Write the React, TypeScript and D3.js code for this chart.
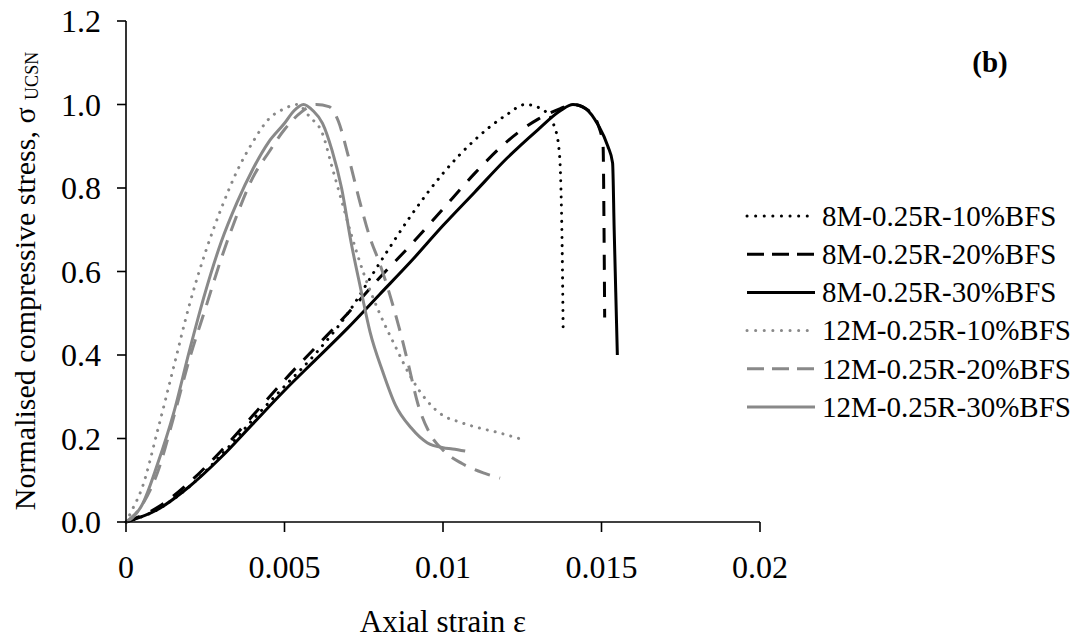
import React from "react";
import * as d3 from "d3";

type Pt = [number, number];

const xTicks = [0, 0.005, 0.01, 0.015, 0.02];
const xTickLabels = ["0", "0.005", "0.01", "0.015", "0.02"];
const yTicks = [0, 0.2, 0.4, 0.6, 0.8, 1.0, 1.2];
const yTickLabels = ["0.0", "0.2", "0.4", "0.6", "0.8", "1.0", "1.2"];

const seriesNames = [
  "8M-0.25R-10%BFS",
  "8M-0.25R-20%BFS",
  "8M-0.25R-30%BFS",
  "12M-0.25R-10%BFS",
  "12M-0.25R-20%BFS",
  "12M-0.25R-30%BFS",
];

const m8r10: Pt[] = [
  [0, 0], [0.001, 0.03], [0.002, 0.085], [0.003, 0.16], [0.004, 0.245], [0.005, 0.325],
  [0.006, 0.405], [0.007, 0.5], [0.008, 0.62], [0.009, 0.735], [0.01, 0.835],
  [0.011, 0.915], [0.012, 0.975], [0.0126, 1.0], [0.0132, 0.985], [0.0135, 0.95],
  [0.01365, 0.9], [0.01372, 0.8], [0.01376, 0.65], [0.01379, 0.46],
];
const m8r20: Pt[] = [
  [0, 0], [0.001, 0.035], [0.002, 0.095], [0.003, 0.17], [0.004, 0.255], [0.005, 0.34],
  [0.006, 0.42], [0.007, 0.5], [0.008, 0.585], [0.009, 0.665], [0.01, 0.75],
  [0.011, 0.835], [0.012, 0.91], [0.013, 0.965], [0.0137, 0.99], [0.0141, 1.0],
  [0.0146, 0.985], [0.0149, 0.95], [0.01505, 0.9], [0.01508, 0.7], [0.0151, 0.49],
];
const m8r30: Pt[] = [
  [0, 0], [0.001, 0.03], [0.002, 0.085], [0.003, 0.155], [0.004, 0.235], [0.005, 0.315],
  [0.006, 0.39], [0.007, 0.465], [0.008, 0.545], [0.009, 0.625], [0.01, 0.71],
  [0.011, 0.79], [0.012, 0.87], [0.013, 0.94], [0.0137, 0.985], [0.0141, 1.0],
  [0.0145, 0.99], [0.0149, 0.95], [0.0152, 0.9], [0.01535, 0.86], [0.0154, 0.7],
  [0.01545, 0.55], [0.0155, 0.4],
];
const m12r10: Pt[] = [
  [0, 0], [0.0002, 0.03], [0.0005, 0.08], [0.001, 0.22], [0.0015, 0.37], [0.002, 0.52],
  [0.0025, 0.645], [0.003, 0.75], [0.0035, 0.84], [0.004, 0.91], [0.0045, 0.965],
  [0.005, 0.99], [0.0054, 1.0], [0.0058, 0.97], [0.0062, 0.93], [0.0065, 0.85],
  [0.0068, 0.77], [0.0071, 0.69], [0.0075, 0.595], [0.008, 0.5], [0.0085, 0.42],
  [0.009, 0.345], [0.0095, 0.29], [0.01, 0.255], [0.0105, 0.24], [0.011, 0.228],
  [0.0117, 0.215], [0.0124, 0.2],
];
const m12r20: Pt[] = [
  [0, 0], [0.0005, 0.04], [0.001, 0.12], [0.0015, 0.25], [0.002, 0.39], [0.0025, 0.51],
  [0.003, 0.63], [0.0035, 0.735], [0.004, 0.825], [0.0045, 0.885], [0.005, 0.94],
  [0.0055, 0.98], [0.006, 1.0], [0.0064, 0.995], [0.0067, 0.96], [0.007, 0.88],
  [0.0074, 0.76], [0.0077, 0.68], [0.008, 0.62], [0.0083, 0.55], [0.0086, 0.47],
  [0.0089, 0.38], [0.0092, 0.285], [0.0096, 0.21], [0.01, 0.172], [0.0106, 0.14],
  [0.0113, 0.117], [0.0118, 0.105],
];
const m12r30: Pt[] = [
  [0, 0], [0.0002, 0.01], [0.0005, 0.04], [0.001, 0.14], [0.0015, 0.26], [0.002, 0.41],
  [0.0025, 0.55], [0.003, 0.67], [0.0035, 0.765], [0.004, 0.845], [0.0045, 0.91],
  [0.005, 0.955], [0.0053, 0.985], [0.0056, 1.0], [0.0059, 0.985], [0.0062, 0.955],
  [0.0065, 0.89], [0.0068, 0.8], [0.0071, 0.67], [0.0074, 0.56], [0.0077, 0.455],
  [0.0081, 0.36], [0.0085, 0.28], [0.009, 0.225], [0.0095, 0.19], [0.01, 0.178],
  [0.0103, 0.175], [0.0107, 0.17],
];

const seriesData = [m8r10, m8r20, m8r30, m12r10, m12r20, m12r30];

const GRAY = "#898989";
const styles = [
  { stroke: "#000", dash: "0.1 8", cap: "round" },
  { stroke: "#000", dash: "15 12", cap: "butt" },
  { stroke: "#000", dash: "", cap: "butt" },
  { stroke: GRAY, dash: "0.1 8", cap: "round" },
  { stroke: GRAY, dash: "16 10", cap: "butt" },
  { stroke: GRAY, dash: "", cap: "butt" },
];
const legendDash = ["0.1 8.5", "17 8", "", "0.1 8.5", "17 8", ""];

const FONT = "'Liberation Serif', 'Times New Roman', serif";

export default function App() {
  const W = 1078, H = 642;
  const x = d3.scaleLinear().domain([0, 0.02]).range([126, 760]);
  const y = d3.scaleLinear().domain([0, 1.2]).range([522, 21]);
  const line = d3
    .line<Pt>()
    .x((d) => x(d[0]))
    .y((d) => y(d[1]))
    .curve(d3.curveMonotoneX);

  const legendY0 = 216;
  const legendStep = 38.2;

  return (
    <svg
      width={W}
      height={H}
      style={{ position: "absolute", left: 0, top: 0, background: "#fff" }}
      fontFamily={FONT}
    >
      <rect width={W} height={H} fill="#fff" />
      {/* series */}
      {seriesData.map((d, i) => (
        <path
          key={i}
          d={line(d) || ""}
          fill="none"
          stroke={styles[i].stroke}
          strokeWidth={3}
          strokeDasharray={styles[i].dash || undefined}
          strokeLinecap={styles[i].cap as any}
          strokeLinejoin="round"
        />
      ))}
      {/* axes */}
      <line x1={x(0)} x2={x(0)} y1={y(1.2)} y2={y(0)} stroke="#000" strokeWidth={1.6} />
      <line x1={x(0)} x2={x(0.02)} y1={y(0)} y2={y(0)} stroke="#000" strokeWidth={1.6} />
      {yTicks.map((t, i) => (
        <g key={"y" + i}>
          <line x1={x(0) - 9} x2={x(0)} y1={y(t)} y2={y(t)} stroke="#000" strokeWidth={1.6} />
          <text x={101} y={y(t)} dy="0.35em" textAnchor="end" fontSize={32}>
            {yTickLabels[i]}
          </text>
        </g>
      ))}
      {xTicks.map((t, i) => (
        <g key={"x" + i}>
          <line x1={x(t)} x2={x(t)} y1={y(0)} y2={y(0) + 10} stroke="#000" strokeWidth={1.6} />
          <text x={x(t)} y={578} textAnchor="middle" fontSize={32}>
            {xTickLabels[i]}
          </text>
        </g>
      ))}
      {/* axis titles */}
      <text x={443} y={632} textAnchor="middle" fontSize={31}>
        Axial strain ε
      </text>
      <text
        transform="translate(35,281) rotate(-90)"
        textAnchor="middle"
        fontSize={30}
      >
        Normalised compressive stress, σ{" "}
        <tspan fontSize={18} dy={3}>UCSN</tspan>
      </text>
      {/* panel label */}
      <text x={990} y={72} textAnchor="middle" fontSize={29} fontWeight="bold">
        (b)
      </text>
      {/* legend */}
      {seriesNames.map((n, i) => {
        const ly = legendY0 + i * legendStep;
        return (
          <g key={"l" + i}>
            <line
              x1={747}
              x2={815}
              y1={ly}
              y2={ly}
              stroke={styles[i].stroke}
              strokeWidth={3}
              strokeDasharray={legendDash[i] || undefined}
              strokeLinecap={styles[i].cap as any}
            />
            <text x={822} y={ly} dy="0.34em" fontSize={29}>
              {n}
            </text>
          </g>
        );
      })}
    </svg>
  );
}
